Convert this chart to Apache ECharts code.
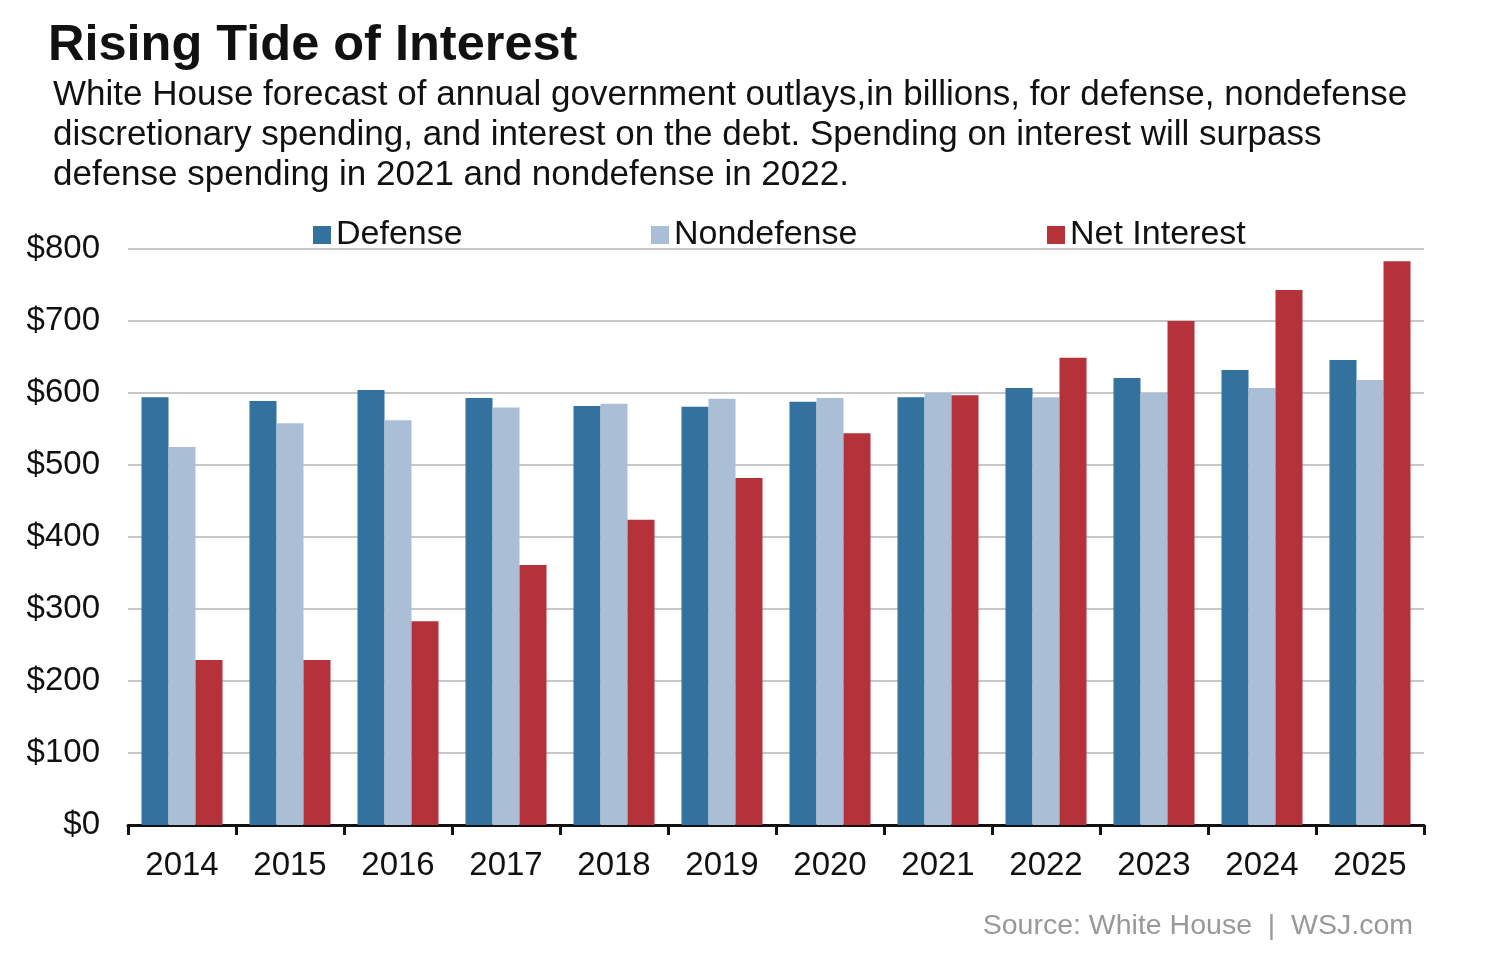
<!DOCTYPE html>
<html>
<head>
<meta charset="utf-8">
<script src="https://cdn.jsdelivr.net/npm/echarts@6/dist/echarts.min.js"></script>
<style>html,body{margin:0;padding:0;background:#fff}#c{width:1496px;height:966px}</style>
</head>
<body>
<div id="c"></div>
<script>
const years = ['2014','2015','2016','2017','2018','2019','2020','2021','2022','2023','2024','2025'];
const defense = [594, 589, 604, 593, 582, 581, 588, 594, 607, 621, 632, 646];
const nondefense = [525, 558, 562, 580, 585, 592, 593, 600, 594, 600, 607, 618];
const netInterest = [229, 229, 283, 361, 424, 482, 544, 597, 649, 700, 743, 783];
const yTicks = [0, 100, 200, 300, 400, 500, 600, 700, 800];

const FONT = '"Liberation Sans", Arial, sans-serif';
const chart = echarts.init(document.getElementById('c'));
const legendBase = {
  top: 213, itemWidth: 18, itemHeight: 18, icon: 'rect',
  textStyle: {fontFamily: FONT, fontSize: 34, color: '#111'}
};
chart.setOption({
  backgroundColor: '#fff',
  animation: false,
  title: [
    {text: 'Rising Tide of Interest', left: 43, top: 13,
     textStyle: {fontFamily: FONT, fontSize: 50.5, fontWeight: 'bold', color: '#111', lineHeight: 56}},
    {text: 'White House forecast of annual government outlays,in billions, for defense, nondefense\ndiscretionary spending, and interest on the debt. Spending on interest will surpass\ndefense spending in 2021 and nondefense in 2022.',
     left: 48, top: 70,
     textStyle: {fontFamily: FONT, fontSize: 35, fontWeight: 'normal', color: '#111', lineHeight: 40}},
    {text: 'Source: White House  |  WSJ.com', right: 78, top: 904,
     textStyle: {fontFamily: FONT, fontSize: 28.5, fontWeight: 'normal', color: '#999', lineHeight: 34}}
  ],
  legend: [
    Object.assign({}, legendBase, {left: 308, data: ['Defense']}),
    Object.assign({}, legendBase, {left: 646, data: ['Nondefense']}),
    Object.assign({}, legendBase, {left: 1042, data: ['Net Interest']})
  ],
  grid: {left: 128, right: 72, top: 249, bottom: 141, containLabel: false},
  xAxis: {
    type: 'category', data: years,
    axisLine: {lineStyle: {color: '#111', width: 3}},
    axisTick: {show: true, length: 10, lineStyle: {color: '#111', width: 3}},
    axisLabel: {fontFamily: FONT, fontSize: 33, color: '#111', margin: 24}
  },
  yAxis: {
    type: 'value', min: yTicks[0], max: yTicks[yTicks.length - 1], interval: 100,
    axisLine: {show: false}, axisTick: {show: false},
    axisLabel: {fontFamily: FONT, fontSize: 33, color: '#111', margin: 28,
      formatter: v => '$' + v},
    splitLine: {lineStyle: {color: '#c8c8c8', width: 2}}
  },
  series: [
    {name: 'Defense', type: 'bar', data: defense, itemStyle: {color: '#33719f'},
     barGap: '0%', barCategoryGap: '25%'},
    {name: 'Nondefense', type: 'bar', data: nondefense, itemStyle: {color: '#aabfd6'},
     barGap: '0%', barCategoryGap: '25%'},
    {name: 'Net Interest', type: 'bar', data: netInterest, itemStyle: {color: '#b5323a'},
     barGap: '0%', barCategoryGap: '25%'}
  ]
});
</script>
</body>
</html>
